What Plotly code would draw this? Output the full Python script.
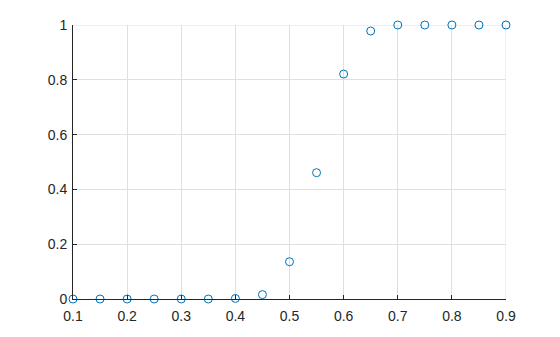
import plotly.graph_objects as go

x_vals = [0.1, 0.15, 0.2, 0.25, 0.3, 0.35, 0.4, 0.45, 0.5, 0.55, 0.6, 0.65, 0.7, 0.75, 0.8, 0.85, 0.9]
y_vals = [0.0, 0.0, 0.0, 0.0, 0.0, 0.0, 0.002, 0.016, 0.136, 0.461, 0.821, 0.978, 1.0, 1.0, 1.0, 1.0, 1.0]
x_ticks = [0.1, 0.2, 0.3, 0.4, 0.5, 0.6, 0.7, 0.8, 0.9]
x_ticklabels = ["0.1", "0.2", "0.3", "0.4", "0.5", "0.6", "0.7", "0.8", "0.9"]
y_ticks = [0, 0.2, 0.4, 0.6, 0.8, 1]
y_ticklabels = ["0", "0.2", "0.4", "0.6", "0.8", "1"]

GRID = "#DFDFDF"

fig = go.Figure()
fig.add_trace(go.Scatter(
    x=x_vals, y=y_vals, mode="markers",
    marker=dict(symbol="circle-open", size=8, color="#0072BD", line=dict(width=1, color="#0072BD")),
    cliponaxis=False, showlegend=False,
))

axis_common = dict(
    showline=True, linecolor="#262626", linewidth=1,
    showgrid=True, gridcolor=GRID, gridwidth=1,
    zeroline=False, ticks="inside", ticklen=4, tickcolor="#262626", tickwidth=1,
    tickfont=dict(family="Liberation Sans, Arial, sans-serif", size=14, color="#262626"),
    mirror=False,
)
fig.update_xaxes(range=[x_ticks[0], x_ticks[-1]], tickvals=x_ticks, ticktext=x_ticklabels,
                 ticklabelstandoff=4, **axis_common)
fig.update_yaxes(range=[y_ticks[0], y_ticks[-1]], tickvals=y_ticks, ticktext=y_ticklabels,
                 ticklabelstandoff=2, **axis_common)

# gridlines at the top and right edges (plotly omits edge gridlines)
fig.add_shape(type="line", xref="paper", yref="y", x0=0, x1=1, y0=y_ticks[-1], y1=y_ticks[-1],
              line=dict(color=GRID, width=1), layer="below")
fig.add_shape(type="line", xref="x", yref="paper", x0=x_ticks[-1], x1=x_ticks[-1], y0=0, y1=1,
              line=dict(color=GRID, width=1), layer="below")

fig.update_layout(
    width=560, height=337,
    margin=dict(l=73, r=54, t=25, b=38),
    paper_bgcolor="white", plot_bgcolor="white",
)
fig.write_html("out.html")
